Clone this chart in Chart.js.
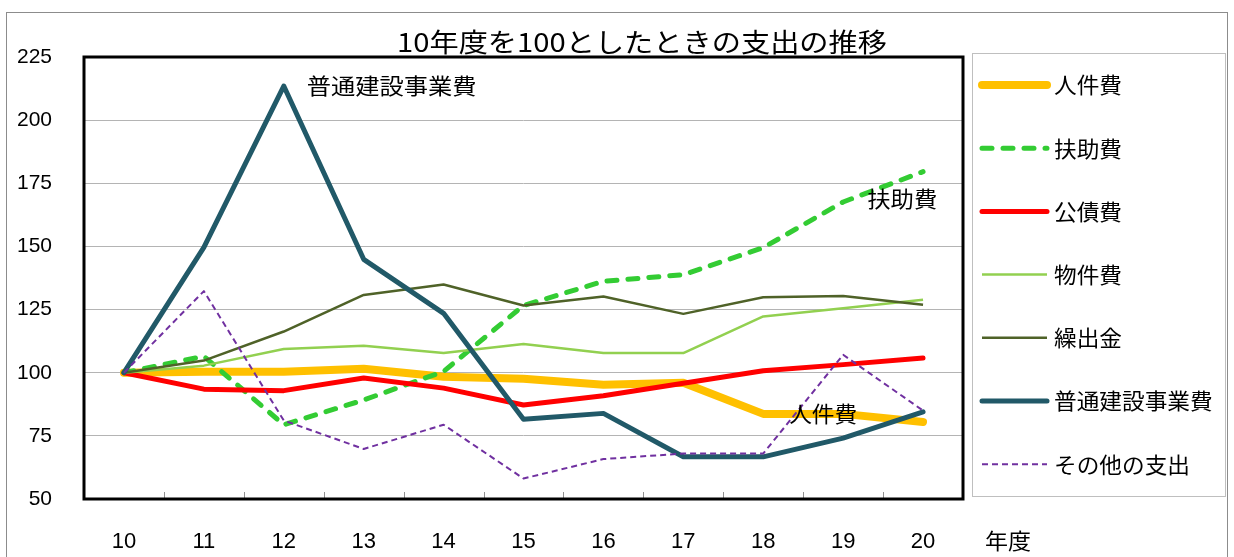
<!DOCTYPE html>
<html>
<head>
<meta charset="utf-8">
<script src="https://cdn.jsdelivr.net/npm/chart.js@4"></script>
<style>
  html, body { margin: 0; padding: 0; background: #fff; }
  #wrap { width: 1234px; height: 557px; }
</style>
</head>
<body>
<div id="wrap"><canvas id="chart" width="1234" height="557"></canvas></div>
<script>
// values (index, 10年度 = 100)
const years = ["10", "11", "12", "13", "14", "15", "16", "17", "18", "19", "20"];
const jinkenhi = [100, 100.4, 100.4, 101.6, 98.4, 97.6, 95.2, 96, 83.7, 83.7, 80.5];
const fujohi = [100, 106.5, 79.4, 89.2, 100.5, 126.6, 136.2, 138.8, 149.5, 167.6, 179.6];
const kosaihi = [100, 93.5, 92.9, 97.9, 93.9, 87.2, 90.9, 95.8, 100.8, 103.2, 105.8];
const bukkenhi = [100, 102.8, 109.4, 110.7, 107.8, 111.4, 107.8, 107.8, 122.3, 125.5, 128.9];
const kuridashikin = [100, 104.8, 116.3, 130.8, 134.9, 126.6, 130.2, 123.3, 129.9, 130.4, 126.9];
const futsuKensetsu = [100, 149.6, 213.5, 144.9, 123.5, 81.6, 83.9, 66.7, 66.7, 74.1, 84.5];
const sonota = [100, 132.3, 81.1, 69.8, 79.4, 58.1, 65.8, 68, 68, 107.1, 85];
const yTicks = [50, 75, 100, 125, 150, 175, 200, 225];

const seriesNames = ["人件費", "扶助費", "公債費", "物件費", "繰出金", "普通建設事業費", "その他の支出"];
const seriesData = [jinkenhi, fujohi, kosaihi, bukkenhi, kuridashikin, futsuKensetsu, sonota];

const styles = [
  { color: "#FFC000", width: 8, dash: [], cap: "round" },
  { color: "#33CC33", width: 5, dash: [10, 11], cap: "round" },
  { color: "#FF0000", width: 5, dash: [], cap: "round" },
  { color: "#92D050", width: 2.5, dash: [], cap: "butt" },
  { color: "#4F6228", width: 2.5, dash: [], cap: "butt" },
  { color: "#215968", width: 5, dash: [], cap: "round" },
  { color: "#7030A0", width: 2, dash: [6, 4], cap: "butt" },
];

// labels written inside the plot, anchored on category index / value
const notes = [
  { text: "普通建設事業費", idx: 3.35, val: 213.5, w: 170 },
  { text: "扶助費", idx: 9.74, val: 168.8, w: 70 },
  { text: "人件費", idx: 8.75, val: 83.6, w: 68 },
];

const CJK = '"Noto Sans CJK JP", "Noto Sans CJK SC", sans-serif';
const NARROW = '"Liberation Sans Narrow", "Liberation Sans", Arial, sans-serif';

function drawText(ctx, text, x, y, size, width, align) {
  ctx.save();
  ctx.font = size + "px " + CJK;
  const m = ctx.measureText(text).width;
  const sx = width ? width / m : 1;
  ctx.translate(x, y);
  ctx.scale(sx, 1);
  ctx.textAlign = align || "center";
  ctx.textBaseline = "middle";
  ctx.fillStyle = "#000";
  ctx.fillText(text, 0, 0);
  ctx.restore();
}

const decor = {
  id: "decor",
  afterDraw(chart) {
    const ctx = chart.ctx;
    const a = chart.chartArea;
    const xs = chart.scales.x;
    const ys = chart.scales.y;

    // outer frame
    ctx.save();
    ctx.strokeStyle = "#8c8c8c";
    ctx.lineWidth = 1;
    ctx.strokeRect(6.5, 12.5, 1221, 600);

    // small ticks between categories
    ctx.strokeStyle = "#909090";
    for (let i = 0; i < years.length - 1; i++) {
      const x = Math.round((xs.getPixelForValue(i) + xs.getPixelForValue(i + 1)) / 2) + 0.5;
      ctx.beginPath();
      ctx.moveTo(x, a.bottom - 7);
      ctx.lineTo(x, a.bottom);
      ctx.stroke();
    }

    // plot frame
    ctx.strokeStyle = "#000";
    ctx.lineWidth = 3;
    ctx.strokeRect(a.left, a.top, a.right - a.left, a.bottom - a.top);
    ctx.restore();

    drawText(ctx, "10年度を100としたときの支出の推移", 642, 42, 26, 490);

    const step = xs.getPixelForValue(1) - xs.getPixelForValue(0);
    notes.forEach(n => {
      const x = xs.getPixelForValue(0) + n.idx * step;
      drawText(ctx, n.text, x, ys.getPixelForValue(n.val), 22, n.w);
    });

    drawText(ctx, "年度", 1008, 541, 22, 46);

    // legend
    ctx.save();
    ctx.strokeStyle = "#bfbfbf";
    ctx.lineWidth = 1;
    ctx.strokeRect(972.5, 53.5, 253, 443);
    seriesNames.forEach((name, i) => {
      const y = 85 + i * 63.2;
      const s = styles[i];
      ctx.save();
      ctx.strokeStyle = s.color;
      ctx.lineWidth = s.width;
      ctx.lineCap = s.cap;
      ctx.setLineDash(s.dash);
      ctx.beginPath();
      ctx.moveTo(982, y);
      ctx.lineTo(1047, y);
      ctx.stroke();
      ctx.restore();
      ctx.font = "22px " + CJK;
      const w = ctx.measureText(name).width * 1.03;
      drawText(ctx, name, 1054, y, 22, w, "left");
    });
    ctx.restore();
  }
};

new Chart(document.getElementById("chart"), {
  type: "line",
  data: {
    labels: years,
    datasets: seriesData.map((d, i) => ({
      label: seriesNames[i],
      data: d,
      borderColor: styles[i].color,
      borderWidth: styles[i].width,
      borderDash: styles[i].dash,
      borderCapStyle: styles[i].cap,
      borderJoinStyle: "round",
      pointRadius: 0,
      tension: 0,
      fill: false,
      order: seriesData.length - i,
    })),
  },
  options: {
    responsive: false,
    animation: false,
    layout: { padding: { left: 0, top: 57, right: 271, bottom: 0 } },
    plugins: { legend: { display: false }, tooltip: { enabled: false } },
    scales: {
      x: {
        offset: true,
        grid: { display: false },
        border: { display: false },
        ticks: { color: "#000", font: { family: NARROW, size: 22 }, padding: 22, maxRotation: 0 },
        afterFit(s) { s.height = 58; },
      },
      y: {
        min: 50,
        max: 225,
        grid: { color: "#b4b4b4", lineWidth: 1, drawTicks: false },
        border: { display: false },
        ticks: { color: "#000", font: { family: NARROW, size: 21 }, padding: 32 },
        afterBuildTicks(s) { s.ticks = yTicks.map(v => ({ value: v })); },
        afterFit(s) { s.width = 84; },
      },
    },
  },
  plugins: [decor],
});
</script>
</body>
</html>
